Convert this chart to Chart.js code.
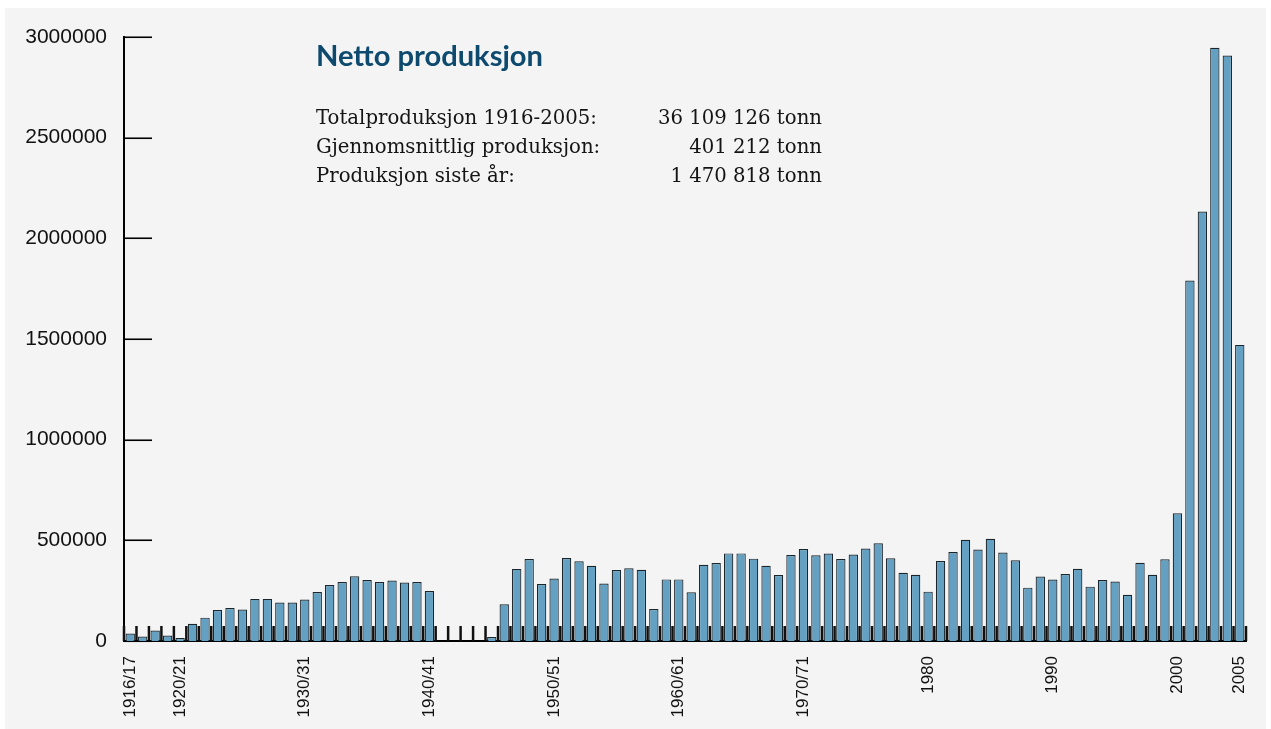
<!DOCTYPE html>
<html><head><meta charset="utf-8">
<script src="https://cdn.jsdelivr.net/npm/chart.js@4"></script>
<style>html,body{margin:0;padding:0;background:#fff;} canvas{display:block;}</style>
</head><body>
<canvas id="c" width="1271" height="729"></canvas>
<script>
const categories = [
  "1916/17","1917/18","1918/19","1919/20","1920/21","1921/22","1922/23","1923/24","1924/25","1925/26",
  "1926/27","1927/28","1928/29","1929/30","1930/31","1931/32","1932/33","1933/34","1934/35","1935/36",
  "1936/37","1937/38","1938/39","1939/40","1940/41","1941/42","1942/43","1943/44","1944/45","1945/46",
  "1946/47","1947/48","1948/49","1949/50","1950/51","1951/52","1952/53","1953/54","1954/55","1955/56",
  "1956/57","1957/58","1958/59","1959/60","1960/61","1961/62","1962/63","1963/64","1964/65","1965/66",
  "1966/67","1967/68","1968/69","1969/70","1970/71","1971/72","1972/73","1973/74","1974/75","1975/76",
  "1976/77","1977/78","1978/79","1979","1980","1981","1982","1983","1984","1985",
  "1986","1987","1988","1989","1990","1991","1992","1993","1994","1995",
  "1996","1997","1998","1999","2000","2001","2002","2003","2004","2005"
];

const production = [
  37000, 22000, 52000, 27000, 15000, 86000, 116000, 154000, 164000, 156000,
  209000, 209000, 191000, 191000, 206000, 243000, 278000, 293000, 321000, 303000,
  293000, 300000, 290000, 293000, 248000, null, null, null, null, 20000,
  182000, 358000, 407000, 283000, 310000, 412000, 396000, 374000, 285000, 353000,
  361000, 354000, 159000, 306000, 306000, 242000, 379000, 387000, 435000, 435000,
  409000, 374000, 328000, 427000, 457000, 426000, 434000, 407000, 430000, 459000,
  485000, 411000, 339000, 329000, 245000, 397000, 442000, 503000, 454000, 508000,
  439000, 401000, 265000, 320000, 305000, 333000, 359000, 270000, 303000, 295000,
  230000, 389000, 329000, 406000, 634000, 1790000, 2133000, 2946000, 2908000, 1470818
];

const shownLabels = ["1916/17","1920/21","1930/31","1940/41","1950/51","1960/61","1970/71","1980","1990","2000","2005"];

const titleText = "Netto produksjon";
const statLabels = ["Totalproduksjon 1916-2005:", "Gjennomsnittlig produksjon:", "Produksjon siste år:"];
const statValues = ["36 109 126 tonn", "401 212 tonn", "1 470 818 tonn"];

const panelPlugin = {
  id: 'panel',
  beforeDraw(chart) {
    const ctx = chart.ctx;
    ctx.save();
    ctx.fillStyle = '#f4f4f4';
    ctx.fillRect(5, 8, 1261, 721);
    ctx.restore();
  }
};

const innerTicksPlugin = {
  id: 'innerTicks',
  beforeDatasetsDraw(chart) {
    const { ctx, chartArea: a, scales: { x, y } } = chart;
    ctx.save();
    ctx.strokeStyle = '#111';
    ctx.lineWidth = 2.5;
    const step = x.getPixelForValue(1) - x.getPixelForValue(0);
    const start = x.getPixelForValue(0) - step / 2;
    for (let i = 0; i <= categories.length; i++) {
      const px = start + i * step;
      ctx.beginPath();
      ctx.moveTo(px, a.bottom);
      ctx.lineTo(px, a.bottom - 15);
      ctx.stroke();
    }
    ctx.strokeStyle = '#000';
    ctx.lineWidth = 1.6;
    y.ticks.forEach(t => {
      const py = Math.round(y.getPixelForValue(t.value)) + 0.25;
      ctx.beginPath();
      ctx.moveTo(a.left, py);
      ctx.lineTo(a.left + 28, py);
      ctx.stroke();
    });
    ctx.restore();
  }
};

function drawFitted(ctx, text, x, baseline, scaleX, align) {
  ctx.save();
  ctx.translate(x, baseline);
  ctx.scale(scaleX, 1);
  ctx.textAlign = align;
  ctx.textBaseline = 'alphabetic';
  ctx.fillText(text, 0, 0);
  ctx.restore();
}

const textPlugin = {
  id: 'texts',
  afterDraw(chart) {
    const ctx = chart.ctx;
    ctx.save();
    ctx.font = 'bold 29px Lato, "Open Sans", sans-serif';
    ctx.fillStyle = '#0d4a6e';
    const tw = ctx.measureText(titleText).width;
    drawFitted(ctx, titleText, 316, 66, 227 / tw, 'left');

    ctx.font = '19.6px "DejaVu Serif", serif';
    ctx.fillStyle = '#141414';
    const sw = ctx.measureText(statLabels[0]).width;
    const s = 281 / sw;
    const baselines = [123.5, 152.5, 181.5];
    statLabels.forEach((l, i) => {
      drawFitted(ctx, l, 316, baselines[i], s, 'left');
      drawFitted(ctx, statValues[i], 822, baselines[i], s, 'right');
    });
    ctx.restore();
  }
};

const axisFont = '"Liberation Sans", Arial, Helvetica, sans-serif';

new Chart(document.getElementById('c'), {
  type: 'bar',
  data: {
    labels: categories,
    datasets: [{
      data: production,
      backgroundColor: '#63a0c1',
      borderColor: '#1b252c',
      borderWidth: 1.2,
      barPercentage: 0.75,
      categoryPercentage: 1
    }]
  },
  options: {
    responsive: false,
    animation: false,
    devicePixelRatio: 1,
    layout: { padding: { top: 37, right: 25, left: 0, bottom: 0 } },
    plugins: { legend: { display: false }, tooltip: { enabled: false }, title: { display: false } },
    scales: {
      x: {
        offset: true,
        grid: { display: false, drawTicks: false },
        border: { display: true, color: '#000', width: 2 },
        ticks: {
          autoSkip: false, maxRotation: 90, minRotation: 90, padding: 15,
          color: '#111', font: { family: axisFont, size: 17 },
          callback(v, i) { const l = categories[i]; return shownLabels.includes(l) ? l : ''; }
        },
        afterFit(s) { s.height = 88; s.paddingLeft = 0; s.paddingRight = 0; }
      },
      y: {
        min: 0, max: 3000000,
        grid: { display: false, drawTicks: false },
        border: { display: true, color: '#000', width: 2 },
        ticks: {
          stepSize: 500000, padding: 17, color: '#111',
          font: { family: axisFont, size: 21 },
          callback: v => String(v)
        },
        afterFit(s) { s.width = 124; s.paddingTop = 0; s.paddingBottom = 0; }
      }
    }
  },
  plugins: [panelPlugin, innerTicksPlugin, textPlugin]
});
</script>
</body></html>
